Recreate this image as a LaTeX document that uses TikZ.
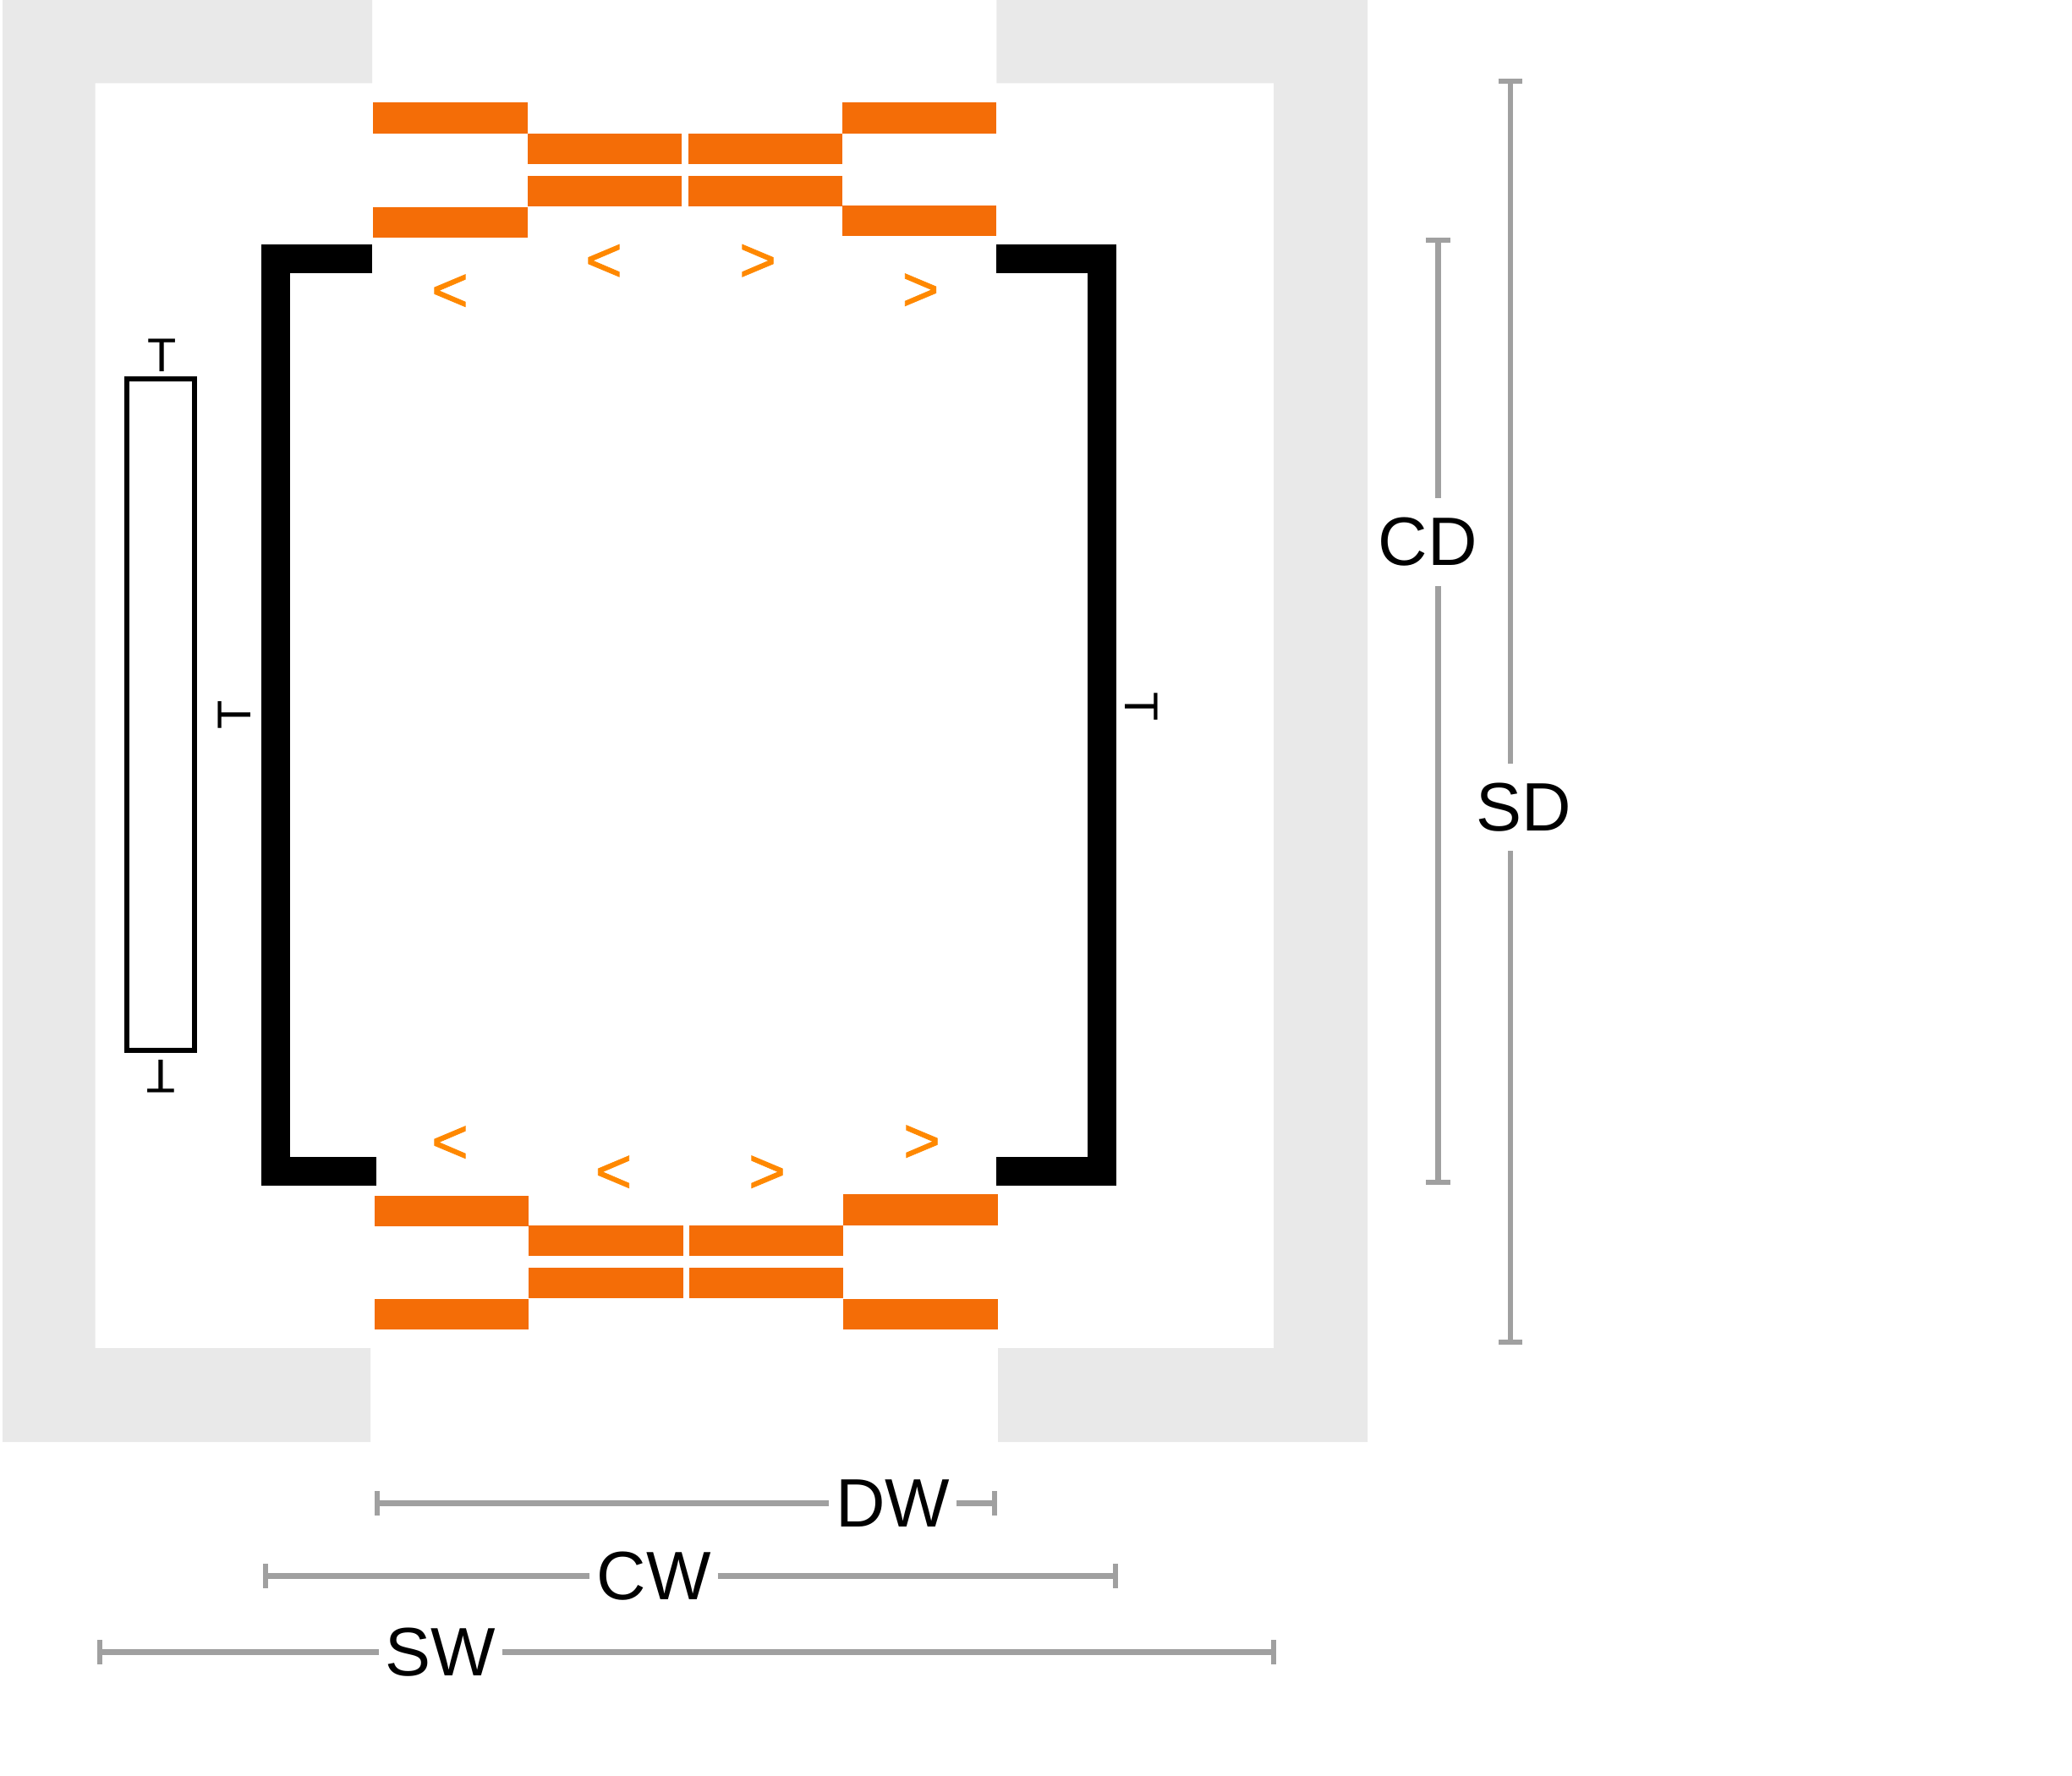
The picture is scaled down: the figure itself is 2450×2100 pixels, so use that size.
\documentclass[tikz,border=0pt]{standalone}
\usepackage{fontspec}
\setmainfont{Liberation Sans}
\newfontfamily\signfont[FakeBold=1]{Liberation Sans}
\usepackage{xcolor}
\usepackage{tikz}
\usetikzlibrary{calc,arrows.meta}

\definecolor{wallgray}{HTML}{E9E9E9}
\definecolor{panelorange}{HTML}{F46D07}
\definecolor{signorange}{HTML}{FF8800}
\definecolor{dimgray}{HTML}{A0A0A0}

\begin{document}
\begin{tikzpicture}[x=1pt,y=-1pt,
  wall/.style={fill=wallgray},
  panel/.style={fill=panelorange},
  car line/.style={draw=black,line width=34pt},
  counter box/.style={draw=black,line width=6pt},
  sign/.style={inner sep=0pt,yshift=-3pt,text=signorange,font=\signfont\fontsize{75}{75}\selectfont},
  thick mark/.style={inner sep=0pt,font=\fontsize{56}{56}\selectfont},
  dim label/.style={inner xsep=8pt,inner ysep=23pt,font=\fontsize{81}{81}\selectfont},
  dim line/.style={draw=dimgray,line width=6.3pt},
  from bar/.style={{Bar[width=28.5pt,line width=6.3pt]}-},
  to bar/.style={-{Bar[width=28.5pt,line width=6.3pt]}}]

\useasboundingbox (0,0) rectangle (2450,2100);

% shaft
\fill[wall] (3,0) -- (440,0) -- (440,98.5) -- (112.5,98.5) -- (112.5,1594) -- (438,1594) -- (438,1705) -- (3,1705) -- cycle;
\fill[wall] (1178.4,0) -- (1617,0) -- (1617,1705) -- (1180,1705) -- (1180,1594) -- (1506,1594) -- (1506,98.5) -- (1178.4,98.5) -- cycle;

% car and counterweight
\draw[car line] (440,306.3) -- (326.3,306.3) -- (326.3,1385.2) -- (445.3,1385.2);
\draw[car line] (1178.4,306.3) -- (1303,306.3) -- (1303,1385.2) -- (1178.4,1385.2);
\draw[counter box] (150.3,448) rectangle (229.7,1242);

% door panels
\foreach \xa/\ya/\xb/\yb in {441.3/121.3/623.9/157.7, 623.9/157.7/806.4/194, 813.9/157.7/996.4/194, 996.4/121.3/1178.4/157.7,
  441.3/244.6/623.9/281, 623.9/208/806.4/244.3, 813.9/208/996.4/244.3, 996.4/243/1178.4/279.3,
  442.5/1414/625/1450.3, 625/1448.7/807.6/1485, 814.5/1448.7/997/1485, 997/1412.3/1179.6/1448.7,
  442.5/1535.7/625/1572, 625/1499/807.6/1535.3, 814.5/1499/997/1535.3, 997/1535.7/1179.6/1572}
  \fill[panel] (\xa,\ya) rectangle (\xb,\yb);

\node[sign] (open a) at (532,343.5) {<};
\node[sign] (open b) at (714,308) {<};
\node[sign] (open c) at (896,308) {>};
\node[sign] (open d) at (1088.5,342.5) {>};
\node[sign] (open e) at (532,1350.5) {<};
\node[sign] (open f) at (725.5,1385.5) {<};
\node[sign] (open g) at (907,1385.5) {>};
\node[sign] (open h) at (1090,1349.5) {>};

\node[thick mark] (box top) at (191.7,420.7) {T};
\node[thick mark,rotate=180] (box bottom) at (190.3,1272.8) {T};
\node[thick mark,rotate=90] (car left) at (277.3,845.3) {T};
\node[thick mark,rotate=-90] (car right) at (1349.7,835.7) {T};

% dimensions
\node[dim label] (dw) at (1055.5,1777.5) {DW};
\node[dim label] (cw) at (773,1863.5) {CW};
\node[dim label] (sw) at (521,1953.5) {SW};
\node[dim label] (cd) at (1688,641) {CD};
\node[dim label] (sd) at (1802,954.5) {SD};

\coordinate (dw a) at (442.7,1777.5);
\coordinate (dw b) at (1179.3,1777.5);
\coordinate (cw a) at (311,1863.5);
\coordinate (cw b) at (1322.3,1863.5);
\coordinate (sw a) at (115,1953.5);
\coordinate (sw b) at (1509,1953.5);
\coordinate (cd a) at (1700.5,281);
\coordinate (cd b) at (1700.5,1401.3);
\coordinate (sd a) at (1785.8,92.7);
\coordinate (sd b) at (1785.8,1590);

\draw[dim line,from bar] (dw a) -- (dw a -| dw.west);
\draw[dim line,to bar] (dw b -| dw.east) -- (dw b);
\draw[dim line,from bar] (cw a) -- (cw a -| cw.west);
\draw[dim line,to bar] (cw b -| cw.east) -- (cw b);
\draw[dim line,from bar] (sw a) -- (sw a -| sw.west);
\draw[dim line,to bar] (sw b -| sw.east) -- (sw b);
\draw[dim line,from bar] (cd a) -- (cd a |- cd.north);
\draw[dim line,to bar] (cd b |- cd.south) -- (cd b);
\draw[dim line,from bar] (sd a) -- (sd a |- sd.north);
\draw[dim line,to bar] (sd b |- sd.south) -- (sd b);
\end{tikzpicture}
\end{document}
